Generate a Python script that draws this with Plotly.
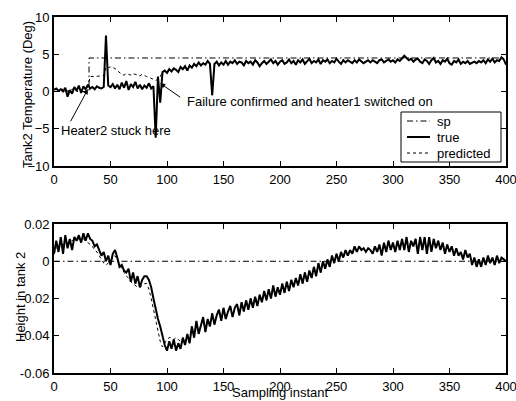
import plotly.graph_objects as go

# ---------------- data ----------------
x_step = list(range(0, 401, 2))  # sampling instants (every 2nd sample)

sp_top_x = [0, 31, 31, 400]
sp_top_y = [0, 0, 4.5, 4.5]

true_top = (
    [0.2, 0.4, 0.1, 0.3, 0.0, 0.5, -0.7, 0.2, -0.3, 0.6, 0.1, 0.8, -0.2, 0.7, 0.3, 0.9]
    + [0.4, 0.6, 0.3, 0.7, 0.5, 0.4, 0.6]
    + [7.5]
    + [0.8, 0.6, 1.0, 0.4, 0.9, 0.3, 1.2, 0.5, 1.4, 0.2, 1.0, 0.6, 1.3, 0.4, 0.9, 0.3, 0.8, 0.5, 1.1, 0.4, 0.7]
    + [-6.2, 2.0, -1.5]
    + [2.6, 2.8, 2.5, 3.0, 2.7, 3.1, 2.9, 2.6, 3.3, 3.0, 3.4, 2.8, 3.5, 3.2, 3.7, 3.4, 3.9, 3.5, 3.8, 3.6, 4.1, 3.7]
    + [-0.5]
    + [3.7, 4.0, 3.5, 3.9, 3.6, 4.1, 3.6, 4.0, 3.8, 4.2,
       3.7, 4.0, 3.9, 3.5, 4.1, 3.8, 4.0, 3.6, 4.2, 3.9,
       3.4, 3.8, 4.1, 3.7, 4.0, 4.3, 3.8, 4.1, 3.6, 4.0,
       4.2, 3.7, 3.9, 4.3, 3.8, 4.1, 3.6, 4.2, 3.9, 4.3,
       3.7, 4.0, 4.4, 3.8, 4.1, 3.9, 4.3, 3.7, 4.2, 4.0,
       4.3, 3.8, 4.1, 3.9, 4.4, 4.0, 3.7, 4.2, 3.9, 4.2,
       4.0, 3.8, 4.2, 3.9, 4.3, 4.1, 3.8, 4.0, 4.2, 3.9,
       4.2, 4.0, 3.8, 4.2, 4.3, 3.9, 4.1, 4.3, 4.0, 4.2,
       3.9, 4.3, 4.1, 4.4, 4.8, 4.5, 4.2, 4.4, 4.0, 4.3,
       4.4, 4.0, 3.8, 4.3, 4.1, 3.7, 4.2, 4.5, 3.9, 4.1,
       3.7, 4.2, 4.0, 4.4, 3.8, 3.6, 4.1, 3.9, 4.3, 3.7,
       4.0, 3.8, 4.1, 3.7, 3.9, 4.0, 3.8, 4.1, 3.9, 4.2,
       3.8, 4.3, 4.0, 4.4, 3.9, 4.2, 4.1, 4.6, 4.3, 3.6]
)

pred_top_early = (
    [0.3, 0.3, 0.2, 0.3, 0.2, 0.3, 0.1, 0.2, 0.2, 0.4, 0.3, 0.5, 0.3, 0.5, 0.4, 0.6]
    + [2.0, 2.0, 2.1, 2.0, 2.0, 2.1, 2.1]
    + [3.3, 3.2, 3.3, 3.2, 3.1, 2.8]
    + [2.5, 2.3, 2.2, 2.4, 2.3, 2.2, 2.4, 2.3, 2.2, 2.1, 2.3, 2.1, 2.0, 1.9, 1.8, 1.7]
    + [1.5, 1.6, 2.0]
)
pred_top = pred_top_early + true_top[len(pred_top_early):]

sp_bot_x = [0, 400]
sp_bot_y = [0, 0]

true_bot = [
    0.004, 0.011, 0.005, 0.013, 0.004, 0.014, 0.007, 0.012, 0.006, 0.013,
    0.011, 0.014, 0.010, 0.015, 0.011, 0.015, 0.012, 0.011, 0.008, 0.009,
    0.006, 0.003, 0.005, 0.000, 0.003, -0.002, 0.004, 0.006, 0.002, -0.003,
    -0.002, -0.005, -0.006, -0.004, -0.011, -0.006, -0.012, -0.008, -0.014, -0.010,
    -0.008, -0.008, -0.010, -0.014, -0.020, -0.026, -0.031, -0.035, -0.041, -0.045,
    -0.048, -0.043, -0.047, -0.042, -0.048, -0.044, -0.047, -0.041, -0.045, -0.039,
    -0.044, -0.035, -0.041, -0.032, -0.039, -0.034, -0.030, -0.038, -0.031, -0.035,
    -0.028, -0.034, -0.029, -0.026, -0.032, -0.025, -0.031, -0.027, -0.024, -0.030,
    -0.025, -0.023, -0.029, -0.022, -0.027, -0.021, -0.026, -0.020, -0.025, -0.019,
    -0.024, -0.018, -0.022, -0.016, -0.021, -0.015, -0.020, -0.013, -0.019, -0.014,
    -0.018, -0.012, -0.017, -0.011, -0.016, -0.010, -0.014, -0.009, -0.013, -0.007,
    -0.012, -0.006, -0.011, -0.005, -0.009, -0.003, -0.008, -0.001, -0.006, 0.000,
    -0.004, 0.001, -0.003, 0.003, -0.001, 0.004, 0.000, 0.005, 0.002, 0.006,
    0.003, 0.006, 0.004, 0.008, 0.005, 0.008, 0.006, 0.007, 0.005, 0.007,
    0.006, 0.004, 0.008, 0.005, 0.009, 0.003, 0.010, 0.005, 0.011, 0.006,
    0.010, 0.005, 0.011, 0.006, 0.012, 0.006, 0.013, 0.005, 0.011, 0.008,
    0.012, 0.004, 0.013, 0.006, 0.013, 0.004, 0.013, 0.005, 0.012, 0.007,
    0.011, 0.006, 0.010, 0.004, 0.009, 0.005, 0.008, 0.003, 0.007, 0.003,
    0.005, 0.001, 0.006, 0.002, 0.004, -0.002, 0.002, -0.003, 0.001, -0.003,
    0.002, -0.002, 0.003, -0.001, 0.002, -0.002, 0.003, -0.001, 0.002, 0.001,
    0.000,
]

pred_bot_early = [
    0.004, 0.007, 0.008, 0.009, 0.009, 0.010, 0.010, 0.011, 0.011, 0.012,
    0.012, 0.012, 0.012, 0.012, 0.011, 0.010, 0.009, 0.008, 0.006, 0.005,
    0.003, 0.001, -0.001, -0.002, -0.001, 0.000, 0.002, 0.003, 0.001, -0.002,
    -0.004, -0.006, -0.008, -0.009, -0.011, -0.012, -0.013, -0.014, -0.014, -0.013,
    -0.012, -0.012, -0.015, -0.020, -0.026, -0.032, -0.038, -0.043, -0.046, -0.044,
    -0.042, -0.041, -0.041, -0.042, -0.041, -0.042, -0.043, -0.042, -0.043, -0.041,
]
pred_bot = pred_bot_early + true_bot[len(pred_bot_early):]

x_ticks = [0, 50, 100, 150, 200, 250, 300, 350, 400]
top_ticks = [-10, -5, 0, 5, 10]
bot_ticks = [-0.06, -0.04, -0.02, 0, 0.02]
bot_ticklabels = ["-0.06", "-0.04", "-0.02", "0", "0.02"]

legend_names = ["sp", "true", "predicted"]

# ---------------- figure ----------------
FONT = "Liberation Sans, Arial, sans-serif"
DASHDOT = "6px,3px,1.5px,3px"
W, H = 516, 401
ML, MR, MT, MB = 54, 10, 17, 28
PX0, PX1 = ML, W - MR   # plot area in page pixels: 54..506
PY0, PY1 = MT, H - MB   # 17..373


def px2paper(px, py):
    return (px - PX0) / (PX1 - PX0), (PY1 - py) / (PY1 - PY0)


fig = go.Figure()

fig.add_trace(go.Scatter(x=sp_top_x, y=sp_top_y, mode="lines", name="sp",
                         line=dict(color="black", width=1, dash=DASHDOT),
                         xaxis="x", yaxis="y"))
fig.add_trace(go.Scatter(x=x_step, y=pred_top, mode="lines", name="predicted",
                         line=dict(color="black", width=1, dash="dot"),
                         xaxis="x", yaxis="y"))
fig.add_trace(go.Scatter(x=x_step, y=true_top, mode="lines", name="true",
                         line=dict(color="black", width=2),
                         xaxis="x", yaxis="y"))

fig.add_trace(go.Scatter(x=sp_bot_x, y=sp_bot_y, mode="lines", name="sp",
                         line=dict(color="black", width=1, dash=DASHDOT),
                         xaxis="x2", yaxis="y2"))
fig.add_trace(go.Scatter(x=x_step, y=pred_bot, mode="lines", name="predicted",
                         line=dict(color="black", width=1, dash="dot"),
                         xaxis="x2", yaxis="y2"))
fig.add_trace(go.Scatter(x=x_step, y=true_bot, mode="lines", name="true",
                         line=dict(color="black", width=2),
                         xaxis="x2", yaxis="y2"))

axis_common = dict(showline=True, linecolor="black", linewidth=1.8, mirror="allticks",
                   ticks="inside", ticklen=5, tickcolor="black", tickwidth=1,
                   showgrid=False, zeroline=False, automargin=False,
                   ticklabeloverflow="allow",
                   tickfont=dict(family=FONT, size=13, color="black"))

_, top_lo = px2paper(0, 166)
_, bot_hi = px2paper(0, 224)

fig.update_layout(
    width=W, height=H,
    margin=dict(l=ML, r=MR, t=MT, b=MB),
    paper_bgcolor="white", plot_bgcolor="white",
    font=dict(family=FONT, size=13, color="black"),
    xaxis=dict(domain=[0, 1], anchor="y", range=[0, 400], tickvals=x_ticks, **axis_common),
    yaxis=dict(domain=[top_lo, 1], anchor="x", range=[-10, 10], tickvals=top_ticks, **axis_common),
    xaxis2=dict(domain=[0, 1], anchor="y2", range=[0, 400], tickvals=x_ticks, **axis_common),
    yaxis2=dict(domain=[0, bot_hi], anchor="x2", range=[-0.06, 0.02], tickvals=bot_ticks,
                ticktext=bot_ticklabels, **axis_common),
    showlegend=False,
)

# ---- legend box drawn as in the original (compact MATLAB-style legend) ----
shapes = []
annotations = []
bx0, by0 = px2paper(401, 162)
bx1, by1 = px2paper(501, 112)
shapes.append(dict(type="rect", xref="paper", yref="paper", x0=bx0, y0=by0, x1=bx1, y1=by1,
                   line=dict(color="black", width=1), fillcolor="white", layer="above"))
row_y = [121, 137, 153]
styles = [dict(color="black", width=1, dash=DASHDOT),
          dict(color="black", width=2),
          dict(color="black", width=1, dash="dot")]
for name, ry, st in zip(legend_names, row_y, styles):
    lx0, ly = px2paper(407, ry)
    lx1, _ = px2paper(430, ry)
    shapes.append(dict(type="line", xref="paper", yref="paper", x0=lx0, x1=lx1, y0=ly, y1=ly,
                       line=st, layer="above"))
    tx, ty = px2paper(435, ry)
    annotations.append(dict(text=name, xref="paper", yref="paper", x=tx, y=ty,
                            xanchor="left", yanchor="middle", showarrow=False,
                            font=dict(family=FONT, size=13, color="black")))

hx, hy = px2paper(59, 130)
t1x, t1y = px2paper(27, 95)
t2x, t2y = px2paper(20, 297)
t3x, t3y = px2paper(280, 393)
annotations += [
    # axis titles
    dict(text="Tank2 Temperature (Deg)", xref="paper", yref="paper", x=t1x, y=t1y,
         textangle=-90, showarrow=False, xanchor="center", yanchor="middle",
         font=dict(family=FONT, size=13)),
    dict(text="Height in tank 2", xref="paper", yref="paper", x=t2x, y=t2y,
         textangle=-90, showarrow=False, xanchor="center", yanchor="middle",
         font=dict(family=FONT, size=13)),
    dict(text="Sampling instant", xref="paper", yref="paper", x=t3x, y=t3y,
         showarrow=False, xanchor="center", yanchor="middle",
         font=dict(family=FONT, size=13)),
    # callouts
    dict(text="Heater2 stuck here", xref="paper", yref="paper", x=hx, y=hy,
         showarrow=False, xanchor="left", yanchor="middle", font=dict(family=FONT, size=13)),
    dict(text="", xref="x", yref="y", x=30, y=0.3, axref="x", ayref="y", ax=14, ay=-4.2,
         showarrow=True, arrowhead=2, arrowsize=1, arrowwidth=1, arrowcolor="black"),
    dict(text="Failure confirmed and heater1 switched on", xref="x", yref="y", x=116, y=-1.4,
         showarrow=False, xanchor="left", yanchor="middle", font=dict(family=FONT, size=13)),
    dict(text="", xref="x", yref="y", x=94, y=1.1, axref="x", ayref="y", ax=113, ay=-0.9,
         showarrow=True, arrowhead=2, arrowsize=1, arrowwidth=1, arrowcolor="black"),
]
fig.update_layout(shapes=shapes, annotations=annotations)

# remove the default page margin so the 516x401 figure fills the window exactly
fig.write_html("out.html",
               config={"displayModeBar": False},
               post_script="document.body.style.margin='0';"
                           "document.body.style.overflow='hidden';")
